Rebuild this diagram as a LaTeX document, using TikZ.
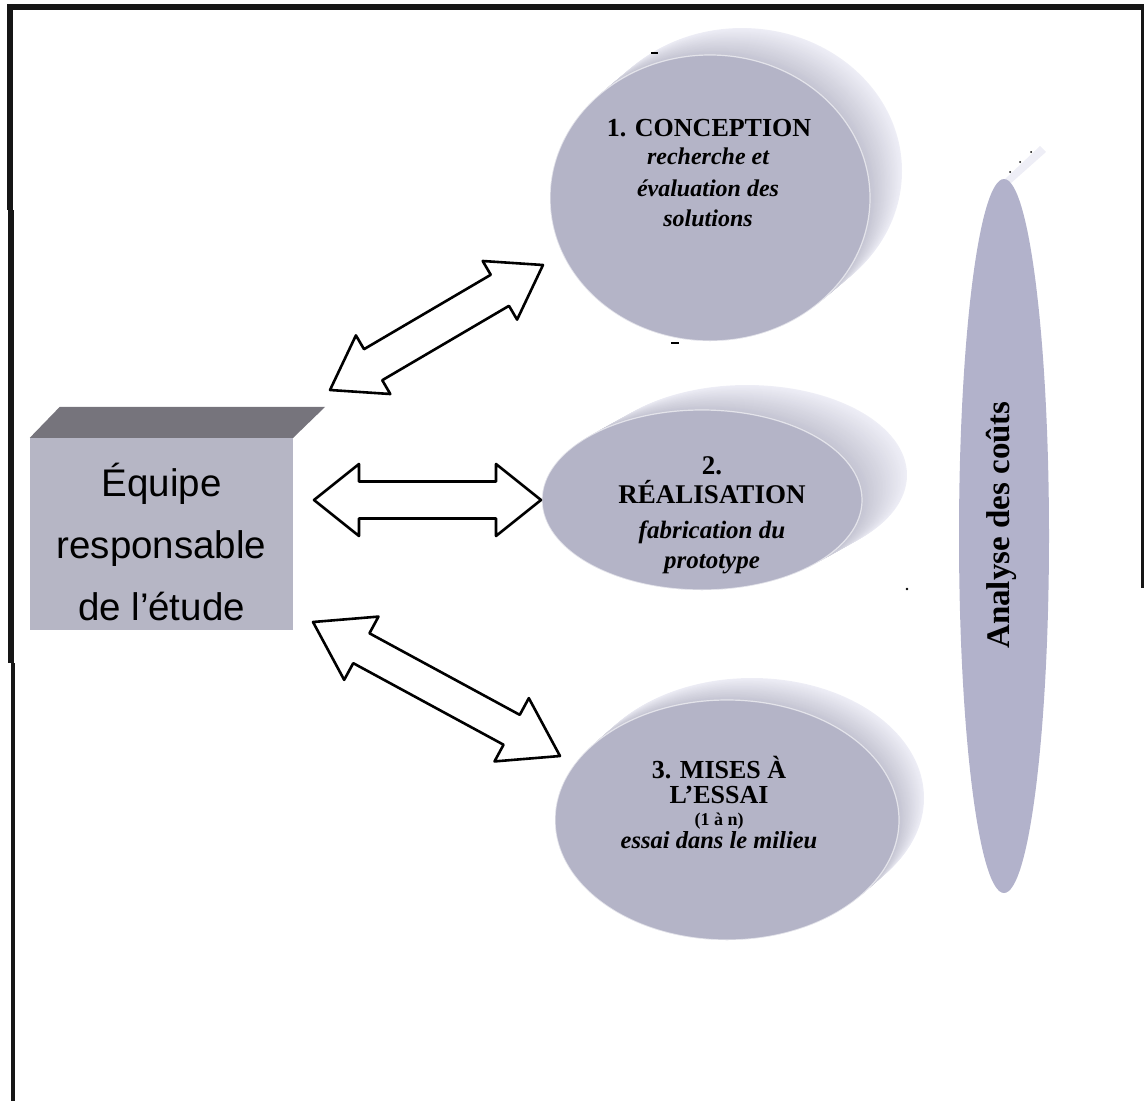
\documentclass[tikz,border=0pt]{standalone}
\usepackage{fontspec}
\setmainfont{Liberation Serif}
\newfontfamily\arialfont{Liberation Sans}
\usetikzlibrary{calc,shapes.geometric}

\definecolor{facecol}{RGB}{180,180,199}
\definecolor{rimcol}{RGB}{238,238,246}
\definecolor{rimdark}{RGB}{196,196,210}
\definecolor{boxtop}{RGB}{118,116,124}
\definecolor{boxfront}{RGB}{182,182,197}
\definecolor{lenscol}{RGB}{178,178,203}
\definecolor{framecol}{RGB}{22,22,22}

% extruded disk: centre (#1,#2), radii #3,#4, depth offset (#5,#6)
\newcommand\diskbody[6]{%
  \foreach \dkk in {0,...,30}{%
    \pgfmathsetmacro\dkt{\dkk/30}%
    \pgfmathtruncatemacro\dkp{100-100*\dkk/30}%
    \fill[rimcol!\dkp!rimdark] ({#1+#5*(1-\dkt)},{#2+#6*(1-\dkt)})
      ellipse[x radius=#3pt, y radius=#4pt];
  }%
}

% hollow double arrow between two named points
% #3 head length, #4 head half-width, #5 shaft half-width
\newcommand\fatdarrow[5]{%
  \draw[fatarrow] (#1)
    -- ($(#1)!#3pt!(#2)!#4pt!90:(#2)$)
    -- ($(#1)!#3pt!(#2)!#5pt!90:(#2)$)
    -- ($(#2)!#3pt!(#1)!#5pt!-90:(#1)$)
    -- ($(#2)!#3pt!(#1)!#4pt!-90:(#1)$)
    -- (#2)
    -- ($(#2)!#3pt!(#1)!#4pt!90:(#1)$)
    -- ($(#2)!#3pt!(#1)!#5pt!90:(#1)$)
    -- ($(#1)!#3pt!(#2)!#5pt!-90:(#2)$)
    -- ($(#1)!#3pt!(#2)!#4pt!-90:(#2)$)
    -- cycle;%
}

\begin{document}
\begin{tikzpicture}[x=1pt,y=-1pt,
  fatarrow/.style={draw=black, fill=white, line width=2.6pt, line join=round},
  diskface/.style={ellipse, fill=facecol, draw=white, draw opacity=0.6,
    line width=1.2pt, inner sep=0pt},
  ln/.style={anchor=base, inner sep=0pt, text=black},
  bb/.style={ln, font=\bfseries\fontsize{#1}{#1}\selectfont},
  bi/.style={ln, font=\bfseries\itshape\fontsize{#1}{#1}\selectfont}]

\useasboundingbox (0,0) rectangle (1144,1101);

% frame
\fill[framecol] (7,4) rectangle (1144,10);
\fill[framecol] (7,4) rectangle (13,210);
\fill[framecol] (8,210) rectangle (14,663);
\fill[framecol] (11,663) rectangle (14.5,1101);
\fill[framecol] (1141,4) rectangle (1143.5,588);

% team box
\node[fill=boxfront, minimum width=263pt, minimum height=192pt, inner sep=0pt]
  (team) at (161.5,534) {};
\fill[boxtop] (team.north west) -- ++(30,-31)
  -- ($(team.north east)+(32,-31)$) -- (team.north east) -- cycle;
\node[align=center, inner sep=0pt, font=\arialfont\fontsize{38.5}{62}\selectfont]
  (teamtxt) at ($(team.center)+(0,8)$) {Équipe\\responsable\\de l’étude};

% the three stages
\diskbody{710}{198}{160}{143}{32}{-27}
\node[diskface, minimum width=320pt, minimum height=286pt] (c1) at (710,198) {};
\diskbody{702}{500}{160}{90}{45}{-25}
\node[diskface, minimum width=320pt, minimum height=180pt] (c2) at (702,500) {};
\diskbody{727}{820}{172}{120}{25}{-22}
\node[diskface, minimum width=344pt, minimum height=240pt] (c3) at (727,820) {};

\node[bb=26] (c1a) at (709,136) {1. CONCEPTION};
\node[bi=24] (c1b) at (708,164) {recherche et};
\node[bi=24] (c1c) at (708,196) {évaluation des};
\node[bi=24] (c1d) at (708,226) {solutions};

\node[bb=27] (c2a) at (712,474) {2.};
\node[bb=27] (c2b) at (712,503) {RÉALISATION};
\node[bi=25] (c2c) at (712,538) {fabrication du};
\node[bi=25] (c2d) at (712,568) {prototype};

\node[bb=26] (c3a) at (719,778) {3. MISES À};
\node[bb=26] (c3b) at (719,803) {L’ESSAI};
\node[bb=18] (c3c) at (719,825) {(1 à n)};
\node[bi=24.5] (c3d) at (719,848) {essai dans le milieu};

% small marks
\fill[black] (651,52) rectangle (658,54);
\fill[black] (671,342) rectangle (679,344);
\fill[black] (907,589) circle[radius=1.3pt];

% cost analysis
\fill[rimcol] (1004,180) -- (1040,146) -- (1046,152) -- (1010,184) -- cycle;
\fill[black] (1010,172) circle[radius=1pt] (1020,162) circle[radius=1pt]
  (1031,152) circle[radius=1pt];
\node[ellipse, fill=lenscol, minimum width=90pt, minimum height=714pt,
  inner sep=0pt] (lens) at (1004,536) {};
\node[rotate=90, inner sep=0pt, font=\bfseries\fontsize{33}{33}\selectfont]
  (costs) at (1001,525) {Analyse des coûts};

% connectors
\coordinate (a1s) at (330,390);
\coordinate (a1e) at (543,265);
\coordinate (a2s) at (314,500);
\coordinate (a2e) at (541,500);
\coordinate (a3s) at (313,622);
\coordinate (a3e) at (560,756);
\fatdarrow{a1s}{a1e}{50}{34}{18}
\fatdarrow{a2s}{a2e}{45}{36}{18.5}
\fatdarrow{a3s}{a3e}{55}{36}{17}

\end{tikzpicture}
\end{document}
